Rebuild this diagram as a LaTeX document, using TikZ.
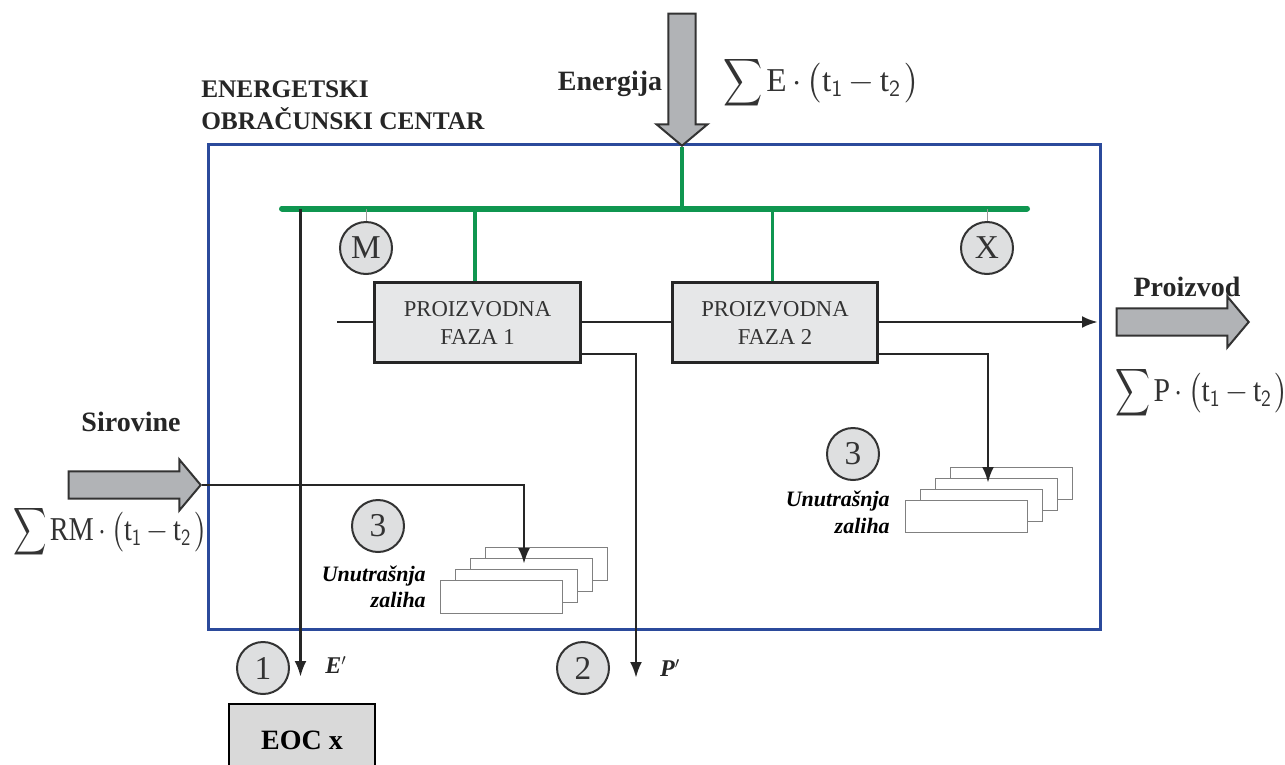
\documentclass[tikz,border=0pt]{standalone}
\usepackage{amsmath}
\usepackage{graphicx}
\usepackage{fontspec}
\setmainfont{Liberation Serif}
\usetikzlibrary{arrows.meta,shapes.arrows,positioning,calc}
\definecolor{okvir}{HTML}{2B4A9B}
\definecolor{sabirnica}{HTML}{0F9650}
\definecolor{strelica}{HTML}{B1B3B6}
\definecolor{faza}{HTML}{E6E7E8}
\definecolor{krug}{HTML}{DEDFE0}
\definecolor{tekst}{HTML}{333333}
\newcommand{\suma}[1]{\scalebox{.82}[1]{$\displaystyle\sum$}$\mskip2mu\mathrm{#1}\mskip3mu{\cdot}\mskip3mu\bigl(\mathrm{t}_{\mathsf{1}}\mskip3mu{-}\mskip3mu\mathrm{t}_{\mathsf{2}}\mskip2mu\bigr)$}
\tikzset{
  tok/.style={draw=black!85,line width=2.2pt},
  bus/.style={draw=sabirnica,line width=2.6pt},
  veliki/.style={single arrow,draw=black!80,fill=strelica,line width=1.5pt,inner xsep=0pt,inner ysep=9.4pt,
    minimum width=36.75pt,minimum height=99pt,single arrow head extend=9pt,anchor=tip,
    single arrow tip angle=100,single arrow head indent=0pt},
  fazabox/.style={draw=black!85,fill=faza,line width=2.2pt,minimum width=154pt,minimum height=60.5pt,
    align=center,inner sep=0pt,text=tekst,font=\fontsize{17}{21}\selectfont},
  kruzic/.style={circle,draw=black!80,fill=krug,line width=1.5pt,minimum size=39pt,inner sep=0pt,
    text=tekst,font=\fontsize{25}{28}\selectfont},
  natpis/.style={inner sep=0pt,font=\bfseries\fontsize{21}{24}\selectfont,text=black!85},
  zaliha/.style={inner sep=0pt,align=right,font=\bfseries\itshape\fontsize{16.5}{20}\selectfont},
  kartica/.style={draw=black!50,fill=white,line width=0.7pt,minimum width=91.5pt,minimum height=24.5pt,inner sep=0pt},
  formula/.style={inner sep=0pt,text=black!80,font=\fontsize{25}{30}\selectfont}
}
\begin{document}
\begin{tikzpicture}[x=0.75pt,y=-0.75pt,>={Latex[length=12pt,width=9pt]}]
  \clip (0,0) rectangle (1285,764);
  \draw[okvir,line width=2.25pt] (208,144) rectangle (1100,629);

  \node (faza1) [fazabox] at (477.5,322.5) {PROIZVODNA\\FAZA 1};
  \node (faza2) [fazabox] at (775,322.5) {PROIZVODNA\\FAZA 2};
  \node (krugM) [kruzic] at (366,248) {M};
  \node (krugX) [kruzic] at (987,248) {X};
  \node (krug1) [kruzic] at (263,668) {1};
  \node (krug2) [kruzic] at (583,668) {2};
  \node (krug3a) [kruzic] at (378,526) {3};
  \node (krug3b) [kruzic] at (853,454) {3};
  \node (eoc) [draw=black,fill=black!15,line width=1.5pt,minimum width=110pt,minimum height=54pt,
    font=\bfseries\fontsize{21}{24}\selectfont] at (302,740) {EOC x};

  % kartice zalihe, od zadnje prema prednjoj
  \foreach \i/\dx/\dy in {3/45/-33,2/30/-22,1/15/-11,0/0/0} {
    \node (zalA\i) [kartica] at (501+\dx,597+\dy) {};
    \node (zalB\i) [kartica] at (966+\dx,516.5+\dy) {};
  }

  \coordinate (busL) at (282,208.5);
  \coordinate (busR) at (1027,208.5);
  \coordinate (ulaz) at (337,322);
  \coordinate (izlaz) at (1098,322);
  \coordinate (izlaz1) at (580,354);
  \coordinate (izlaz2) at (878,354);
  \coordinate (pr) at (636,678);
  \coordinate (e) at (300.5,677);
  \coordinate (ulazA) at (524,564);
  \coordinate (ulazB) at (988,483);

  \node (energija) [veliki,rotate=-90] at (682,147) {};
  \node (sirovine) [veliki] at (202,485) {};
  \node (proizvod) [veliki] at (1250,322) {};

  \draw[bus,line width=4.5pt,line cap=round] (busL) -- (busR);
  \draw[bus] (energija.tip) -- (energija.tip |- busL);
  \draw[bus] ([xshift=-1.9pt]faza1.north) -- ([xshift=-1.9pt]faza1.north |- busL);
  \draw[bus] ([xshift=-1.9pt]faza2.north) -- ([xshift=-1.9pt]faza2.north |- busL);
  \foreach \k in {krugM,krugX}
    \draw[black!40,line width=0.7pt] (\k.north) -- (\k.north |- busL);

  \draw[tok] (ulaz) -- (ulaz -| faza1.west);
  \draw[tok] (faza1.east |- ulaz) -- (faza2.west |- ulaz);
  \draw[tok,->] (faza2.east |- izlaz) -- (izlaz);
  \draw[tok,->] (izlaz1) -| (pr);
  \draw[tok,->] (izlaz2) -| (ulazB);
  \draw[tok,->] (sirovine.tip) -| (ulazA);
  \draw[tok,->] (e |- busL) -- (e);

  \node (natpisE) [natpis,align=left,anchor=west,font=\bfseries\fontsize{19}{24}\selectfont] at (201,105) {ENERGETSKI\\OBRAČUNSKI CENTAR};
  \node (natpisEn) [natpis] at (610,84) {Energija};
  \node (natpisS) [natpis] at (131,422) {Sirovine};
  \node (natpisP) [natpis] at (1187,287) {Proizvod};
  \node (sumaE) [formula,anchor=west] at (723,83) {\suma{E}};
  \node (sumaRM) [formula,anchor=west] at (13,532) {\scalebox{.85}[1]{\suma{RM}}};
  \node (sumaP) [formula,anchor=west] at (1115,393) {\scalebox{.89}[1]{\suma{P}}};
  \node (zalihaA) [zaliha,anchor=east] at (426,587) {Unutrašnja\\zaliha};
  \node (zalihaB) [zaliha,anchor=east] at (890,512.5) {Unutrašnja\\zaliha};
  \node (oznE) [natpis,font=\bfseries\itshape\fontsize{18}{20}\selectfont] at (336,665) {E$'$};
  \node (oznP) [natpis,font=\bfseries\itshape\fontsize{18}{20}\selectfont] at (670,668) {P$'$};
\end{tikzpicture}
\end{document}
